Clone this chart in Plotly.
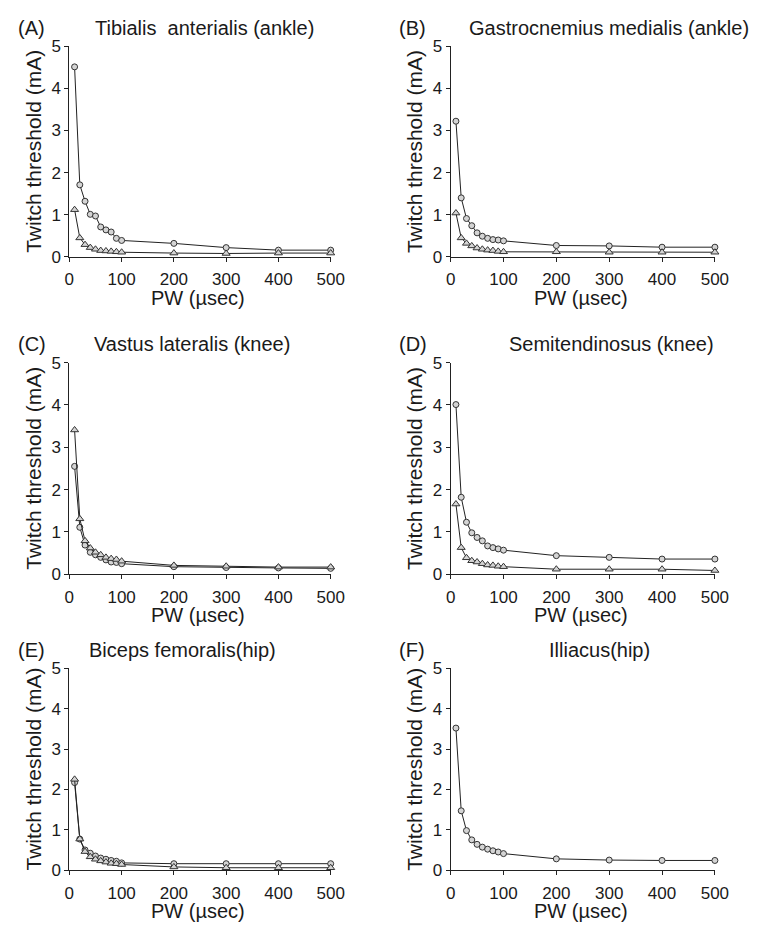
import plotly.graph_objects as go

# ---------------- data ----------------
pw = [10, 20, 30, 40, 50, 60, 70, 80, 90, 100, 200, 300, 400, 500]

panel_letters = ["(A)", "(B)", "(C)", "(D)", "(E)", "(F)"]
panel_titles = [
    "Tibialis\u00a0 anterialis (ankle)",
    "Gastrocnemius medialis (ankle)",
    "Vastus lateralis (knee)",
    "Semitendinosus (knee)",
    "Biceps femoralis(hip)",
    "Illiacus(hip)",
]

a_circle = [4.51, 1.71, 1.32, 1.01, 0.97, 0.71, 0.64, 0.59, 0.44, 0.39, 0.32, 0.22, 0.16, 0.16]
a_triangle = [1.12, 0.45, 0.29, 0.22, 0.18, 0.15, 0.14, 0.13, 0.12, 0.11, 0.09, 0.08, 0.09, 0.09]

b_circle = [3.22, 1.40, 0.91, 0.74, 0.57, 0.49, 0.44, 0.41, 0.40, 0.38, 0.27, 0.26, 0.23, 0.23]
b_triangle = [1.04, 0.45, 0.32, 0.26, 0.21, 0.18, 0.16, 0.15, 0.13, 0.12, 0.12, 0.11, 0.11, 0.11]

c_circle = [2.55, 1.11, 0.69, 0.52, 0.46, 0.40, 0.34, 0.29, 0.28, 0.25, 0.18, 0.16, 0.15, 0.14]
c_triangle = [3.41, 1.31, 0.79, 0.62, 0.52, 0.46, 0.40, 0.37, 0.35, 0.31, 0.21, 0.19, 0.17, 0.17]

d_circle = [4.01, 1.82, 1.23, 0.98, 0.87, 0.79, 0.67, 0.63, 0.60, 0.57, 0.44, 0.40, 0.36, 0.36]
d_triangle = [1.66, 0.63, 0.39, 0.32, 0.29, 0.25, 0.22, 0.21, 0.19, 0.18, 0.12, 0.12, 0.12, 0.09]

e_circle = [2.17, 0.77, 0.50, 0.42, 0.35, 0.30, 0.27, 0.24, 0.22, 0.18, 0.16, 0.16, 0.16, 0.16]
e_triangle = [2.25, 0.77, 0.46, 0.33, 0.27, 0.23, 0.20, 0.17, 0.16, 0.14, 0.08, 0.06, 0.06, 0.06]

f_circle = [3.52, 1.47, 0.98, 0.75, 0.64, 0.57, 0.52, 0.48, 0.45, 0.41, 0.28, 0.25, 0.24, 0.24]
f_triangle = None

circles = [a_circle, b_circle, c_circle, d_circle, e_circle, f_circle]
triangles = [a_triangle, b_triangle, c_triangle, d_triangle, e_triangle, f_triangle]

x_ticks = [0, 100, 200, 300, 400, 500]
y_ticks = [0, 1, 2, 3, 4, 5]
x_title = "PW (\u00b5sec)"
y_title = "Twitch threshold (mA)"

# ---------------- layout geometry (pixels) ----------------
W, H = 764, 936
cols_px = [(66, 334), (457, 728)]
rows_px = [(38, 253), (361, 577), (673, 879)]
title_cx = [205, 619, 192, 622, 182, 610]

FONT = "Arial, Liberation Sans, sans-serif"
TXT = "#1a1a1a"
LINE = "#222222"

fig = go.Figure()
annotations = []


def px_x(p):
    return p / W


def px_y(p):
    return 1 - p / H


for i in range(6):
    r, c = divmod(i, 2)
    x0, x1 = cols_px[c]
    y0, y1 = rows_px[r]
    ax = "" if i == 0 else str(i + 1)
    xa, ya = "x" + ax, "y" + ax

    for series, sym in ((circles[i], "circle"), (triangles[i], "triangle-up")):
        if series is None:
            continue
        fig.add_trace(go.Scatter(
            x=pw, y=series, xaxis=xa, yaxis=ya, mode="lines+markers",
            line=dict(color=LINE, width=1),
            marker=dict(symbol=sym, size=6 if sym == "circle" else 7,
                        color="#d4d4d4", line=dict(color="#333333", width=1)),
            cliponaxis=False, showlegend=False, hoverinfo="x+y",
        ))

    axis_common = dict(
        showgrid=False, zeroline=False, showline=True, linecolor=LINE, linewidth=1,
        ticks="outside", ticklen=4, tickwidth=1, tickcolor=LINE,
        tickfont=dict(family=FONT, size=17, color=TXT),
    )
    fig.layout["xaxis" + ax] = dict(
        axis_common, domain=[px_x(x0), px_x(x1)], range=[0, 500],
        tickvals=x_ticks, anchor=ya, ticklabelstandoff=3,
    )
    fig.layout["yaxis" + ax] = dict(
        axis_common, domain=[px_y(y1), px_y(y0)], range=[0, 5],
        tickvals=y_ticks, anchor=xa,
    )

    cx = (x0 + x1) / 2
    annotations.append(dict(
        text=panel_letters[i], x=px_x(x0 - 55), y=px_y(y0 - 19),
        xref="paper", yref="paper", xanchor="left", yanchor="middle", showarrow=False,
        font=dict(family=FONT, size=20, color=TXT),
    ))
    annotations.append(dict(
        text=panel_titles[i], x=px_x(title_cx[i]), y=px_y(y0 - 19),
        xref="paper", yref="paper", xanchor="center", yanchor="middle", showarrow=False,
        font=dict(family=FONT, size=20, color=TXT),
    ))
    annotations.append(dict(
        text=x_title, x=px_x(cx - 2), y=px_y(y1 + 42),
        xref="paper", yref="paper", xanchor="center", yanchor="middle", showarrow=False,
        font=dict(family=FONT, size=20, color=TXT),
    ))
    annotations.append(dict(
        text=y_title, x=px_x(x0 - 37), y=px_y((y0 + y1) / 2),
        xref="paper", yref="paper", xanchor="center", yanchor="middle", showarrow=False,
        textangle=-90, font=dict(family=FONT, size=21, color=TXT),
    ))

fig.update_layout(
    width=W, height=H, autosize=False,
    margin=dict(l=0, r=0, t=0, b=0),
    paper_bgcolor="white", plot_bgcolor="white",
    annotations=annotations, showlegend=False,
)

fig.write_html(
    "out.html",
    config={"displayModeBar": False},
    post_script="document.body.style.margin='0';document.body.style.overflow='hidden';",
)
